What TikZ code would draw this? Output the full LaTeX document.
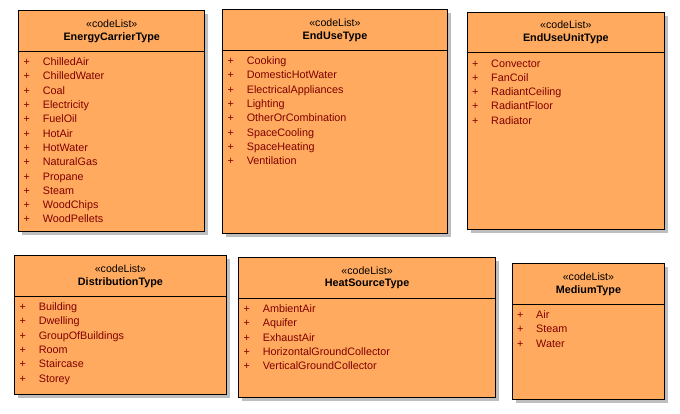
\documentclass[tikz,border=0pt]{standalone}
\usepackage{fontspec}
\setmainfont{Liberation Sans}
\definecolor{boxfill}{RGB}{255,170,95}
\definecolor{itemred}{RGB}{128,0,0}
\definecolor{shadowgray}{RGB}{190,190,190}
\tikzset{
  umlbox/.style={draw=black, line width=0.9pt, fill=boxfill, inner sep=0pt, anchor=north west},
  stereo/.style={inner sep=0pt, font=\fontsize{10.6}{12}\selectfont, text=black},
  titletext/.style={inner sep=0pt, font=\fontsize{10.8}{12}\selectfont\bfseries, text=black},
  itemtext/.style={inner sep=0pt, font=\fontsize{10.8}{12}\selectfont, text=itemred, anchor=base west},
  plustext/.style={inner sep=0pt, font=\fontsize{10.8}{12}\selectfont, text=itemred, anchor=base},
  sepline/.style={draw=black, line width=0.9pt}
}
% #1 name, #2 left, #3 top, #4 right, #5 bottom, #6 title, #7 items
\newcommand\codelistbox[7]{%
  \fill[shadowgray] (#2+4,#3+4) rectangle (#4+4,#5+4);
  \node[umlbox, minimum width={(#4-#2)*1pt}, minimum height={(#5-#3)*1pt}] (#1) at (#2,#3) {};
  \draw[sepline] ([yshift=-41.2pt]#1.north west) -- ([yshift=-41.2pt]#1.north east);
  \node[stereo] (#1-st) at ([yshift=-13.2pt]#1.north) {«codeList»};
  \node[titletext] (#1-ti) at ([yshift=-27pt]#1.north) {#6};
  \foreach \t [count=\i] in {#7} {
    \node[plustext] (#1-p\i) at ([xshift=8.5pt, yshift={-(55.3+(\i-1)*14.3)*1pt}]#1.north west) {+};
    \node[itemtext] (#1-\i) at ([xshift=24.3pt, yshift={-(55.3+(\i-1)*14.3)*1pt}]#1.north west) {\t};
  }
}
\begin{document}
\begin{tikzpicture}[x=1pt,y=-1pt]
\useasboundingbox (0,0) rectangle (680,413);
\fill[white] (0,0) rectangle (680,413);
\codelistbox{ec}{18.3}{10.3}{204.3}{231.3}{EnergyCarrierType}{ChilledAir,ChilledWater,Coal,Electricity,FuelOil,HotAir,HotWater,NaturalGas,Propane,Steam,WoodChips,WoodPellets}
\codelistbox{eu}{222.3}{9.3}{446.7}{232.7}{EndUseType}{Cooking,DomesticHotWater,ElectricalAppliances,Lighting,OtherOrCombination,SpaceCooling,SpaceHeating,Ventilation}
\codelistbox{euu}{466.7}{11.7}{664}{229}{EndUseUnitType}{Convector,FanCoil,RadiantCeiling,RadiantFloor,Radiator}
\codelistbox{dt}{14.3}{255.3}{225.7}{394}{DistributionType}{Building,Dwelling,GroupOfBuildings,Room,Staircase,Storey}
\codelistbox{hs}{238.3}{257.3}{495}{396.7}{HeatSourceType}{AmbientAir,Aquifer,ExhaustAir,HorizontalGroundCollector,VerticalGroundCollector}
\codelistbox{md}{511.7}{263.3}{664.3}{399}{MediumType}{Air,Steam,Water}
\end{tikzpicture}
\end{document}
